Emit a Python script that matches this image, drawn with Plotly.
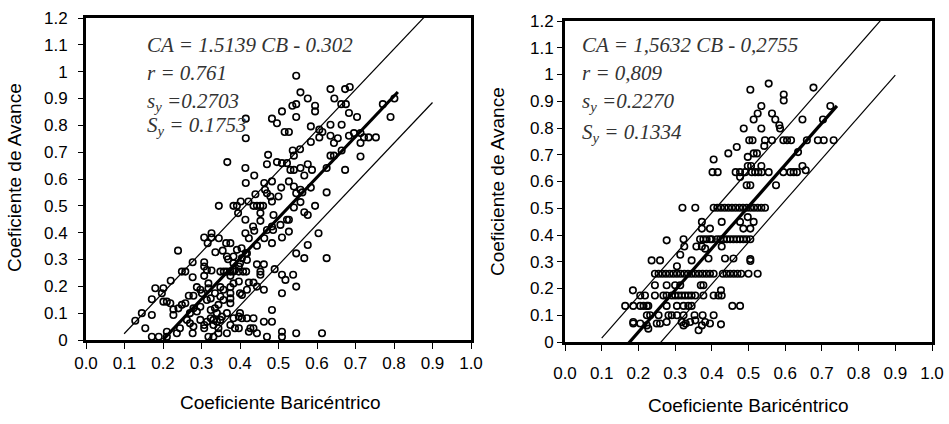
import plotly.graph_objects as go

W, H = 949, 424

# ---------------- Left chart data (Coeficiente Baricéntrico vs Coeficiente de Avance)
left_cb = [
    0.546, 0.557, 0.576, 0.536, 0.546, 0.635, 0.645, 0.673, 0.685, 0.663,
    0.675, 0.595, 0.595, 0.509, 0.546, 0.483, 0.496, 0.415, 0.415, 0.683,
    0.704, 0.791, 0.801, 0.771, 0.584, 0.635, 0.664, 0.606, 0.614, 0.516,
    0.527, 0.635, 0.644, 0.654, 0.683, 0.696, 0.713, 0.713, 0.722, 0.734,
    0.753, 0.584, 0.606, 0.537, 0.556, 0.540, 0.473, 0.635, 0.644, 0.664,
    0.713, 0.367, 0.414, 0.437, 0.415, 0.470, 0.496, 0.509, 0.522, 0.531,
    0.540, 0.557, 0.567, 0.576, 0.587, 0.625, 0.673, 0.527, 0.483, 0.463,
    0.465, 0.470, 0.500, 0.507, 0.540, 0.557, 0.562, 0.584, 0.625, 0.546,
    0.557, 0.483, 0.479, 0.440, 0.345, 0.383, 0.392, 0.402, 0.422, 0.435,
    0.444, 0.453, 0.395, 0.460, 0.453, 0.414, 0.434, 0.437, 0.414, 0.423,
    0.453, 0.487, 0.483, 0.486, 0.505, 0.522, 0.527, 0.527, 0.509, 0.540,
    0.567, 0.576, 0.595, 0.604, 0.470, 0.463, 0.483, 0.444, 0.345, 0.307,
    0.326, 0.326, 0.316, 0.364, 0.375, 0.239, 0.336, 0.355, 0.366, 0.369,
    0.383, 0.392, 0.404, 0.415, 0.418, 0.383, 0.400, 0.444, 0.462, 0.546,
    0.567, 0.576, 0.625, 0.277, 0.307, 0.307, 0.314, 0.326, 0.349, 0.358,
    0.366, 0.375, 0.383, 0.397, 0.408, 0.416, 0.453, 0.453, 0.249, 0.258,
    0.220, 0.277, 0.307, 0.318, 0.375, 0.423, 0.435, 0.444, 0.462, 0.490,
    0.509, 0.518, 0.538, 0.546, 0.180, 0.201, 0.197, 0.201, 0.210, 0.219,
    0.227, 0.171, 0.145, 0.128, 0.171, 0.154, 0.171, 0.189, 0.210, 0.210,
    0.227, 0.240, 0.249, 0.258, 0.244, 0.236, 0.267, 0.279, 0.288, 0.270,
    0.279, 0.288, 0.297, 0.262, 0.270, 0.279, 0.277, 0.297, 0.307, 0.307,
    0.318, 0.331, 0.324, 0.335, 0.344, 0.314, 0.324, 0.335, 0.297, 0.301,
    0.318, 0.349, 0.357, 0.375, 0.375, 0.349, 0.357, 0.375, 0.375, 0.340,
    0.353, 0.366, 0.331, 0.340, 0.349, 0.331, 0.344, 0.344, 0.366, 0.375,
    0.383, 0.397, 0.387, 0.397, 0.400, 0.405, 0.418, 0.427, 0.435, 0.435,
    0.423, 0.444, 0.462, 0.483, 0.483, 0.470, 0.509, 0.509, 0.546, 0.613,
    0.509, 0.383, 0.397, 0.400, 0.405, 0.418, 0.387, 0.397, 0.405, 0.418,
    0.314, 0.324,
]
left_ca = [
    0.985, 0.923, 0.900, 0.873, 0.879, 0.935, 0.900, 0.935, 0.943, 0.879,
    0.879, 0.873, 0.852, 0.852, 0.831, 0.825, 0.808, 0.825, 0.752, 0.846,
    0.831, 0.831, 0.900, 0.879, 0.796, 0.802, 0.802, 0.784, 0.775, 0.775,
    0.775, 0.761, 0.734, 0.752, 0.761, 0.771, 0.771, 0.734, 0.755, 0.755,
    0.755, 0.738, 0.755, 0.706, 0.711, 0.687, 0.690, 0.687, 0.687, 0.706,
    0.684, 0.663, 0.641, 0.613, 0.585, 0.655, 0.663, 0.659, 0.659, 0.634,
    0.634, 0.641, 0.613, 0.655, 0.634, 0.641, 0.634, 0.591, 0.591, 0.585,
    0.560, 0.547, 0.535, 0.568, 0.572, 0.560, 0.550, 0.568, 0.550, 0.547,
    0.514, 0.516, 0.535, 0.543, 0.500, 0.500, 0.500, 0.516, 0.516, 0.500,
    0.500, 0.500, 0.473, 0.500, 0.473, 0.448, 0.423, 0.407, 0.398, 0.379,
    0.444, 0.466, 0.423, 0.410, 0.429, 0.448, 0.448, 0.404, 0.382, 0.494,
    0.476, 0.466, 0.500, 0.398, 0.410, 0.379, 0.361, 0.351, 0.379, 0.382,
    0.398, 0.382, 0.361, 0.361, 0.361, 0.333, 0.327, 0.333, 0.311, 0.301,
    0.311, 0.336, 0.342, 0.323, 0.298, 0.286, 0.286, 0.282, 0.282, 0.323,
    0.305, 0.354, 0.305, 0.290, 0.290, 0.274, 0.261, 0.259, 0.255, 0.255,
    0.255, 0.255, 0.255, 0.255, 0.255, 0.255, 0.255, 0.243, 0.255, 0.255,
    0.221, 0.234, 0.239, 0.211, 0.239, 0.214, 0.214, 0.199, 0.187, 0.264,
    0.243, 0.224, 0.243, 0.199, 0.193, 0.193, 0.174, 0.143, 0.143, 0.137,
    0.114, 0.152, 0.100, 0.072, 0.093, 0.044, 0.012, 0.012, 0.031, 0.012,
    0.093, 0.118, 0.131, 0.137, 0.044, 0.025, 0.165, 0.165, 0.197, 0.100,
    0.118, 0.106, 0.124, 0.075, 0.062, 0.050, 0.025, 0.075, 0.044, 0.056,
    0.012, 0.012, 0.112, 0.118, 0.131, 0.149, 0.155, 0.174, 0.187, 0.174,
    0.193, 0.197, 0.187, 0.197, 0.174, 0.162, 0.149, 0.155, 0.137, 0.100,
    0.087, 0.100, 0.075, 0.068, 0.075, 0.056, 0.044, 0.025, 0.025, 0.056,
    0.081, 0.087, 0.044, 0.044, 0.100, 0.081, 0.081, 0.044, 0.044, 0.081,
    0.031, 0.025, 0.068, 0.068, 0.112, 0.012, 0.031, 0.012, 0.025, 0.025,
    0.174, 0.211, 0.218, 0.174, 0.168, 0.187, 0.261, 0.274, 0.305, 0.323,
    0.068, 0.081,
]
left_slope, left_intercept, left_se = 1.5139, -0.302, 0.1753
left_fit_x = [0.20, 0.81]
left_up_x = [0.099, 0.885]
left_lo_x = [0.30, 0.90]
left_text = ["CA = 1.5139 CB - 0.302", "r = 0.761",
             "s<sub>y</sub> =0.2703", "S<sub>y</sub> = 0.1753"]

# ---------------- Right chart data
right_cb = [
    0.555, 0.505, 0.677, 0.596, 0.596, 0.535, 0.525, 0.514, 0.564, 0.573,
    0.584, 0.586, 0.487, 0.535, 0.723, 0.703, 0.647,
    0.543, 0.468, 0.445, 0.514, 0.523, 0.498, 0.405, 0.635, 0.535, 0.498,
    0.507, 0.647, 0.656,
    0.477, 0.495, 0.505, 0.575,
    0.498, 0.477, 0.514, 0.427, 0.373, 0.373, 0.395, 0.486, 0.505,
    0.325, 0.358, 0.373, 0.427, 0.382, 0.314, 0.236, 0.259, 0.345, 0.305,
    0.391, 0.436, 0.459, 0.505, 0.505, 0.277,
    0.245, 0.277, 0.300, 0.314, 0.370, 0.377, 0.425, 0.185,
    0.186, 0.186, 0.205, 0.223, 0.227, 0.250, 0.259, 0.277, 0.318, 0.323,
    0.329, 0.341, 0.355, 0.364, 0.373, 0.382, 0.395, 0.425,
]
right_ca = [
    0.966, 0.943, 0.951, 0.925, 0.903, 0.882, 0.854, 0.832, 0.854, 0.832,
    0.810, 0.798, 0.798, 0.798, 0.882, 0.832, 0.832,
    0.733, 0.729, 0.705, 0.705, 0.705, 0.692, 0.682, 0.710, 0.658, 0.658,
    0.658, 0.658, 0.642,
    0.617, 0.586, 0.586, 0.586,
    0.467, 0.449, 0.449, 0.449, 0.449, 0.424, 0.424, 0.424, 0.424,
    0.357, 0.357, 0.357, 0.357, 0.349, 0.326, 0.305, 0.305, 0.305, 0.283,
    0.312, 0.312, 0.312, 0.310, 0.303, 0.380,
    0.212, 0.212, 0.212, 0.212, 0.212, 0.212, 0.193, 0.193,
    0.075, 0.069, 0.069, 0.062, 0.050, 0.069, 0.069, 0.075, 0.075, 0.062,
    0.069, 0.075, 0.081, 0.044, 0.062, 0.075, 0.069, 0.066,
]
# rows of points sharing the same Coeficiente de Avance value
right_row_ca = [0.754, 0.635, 0.502, 0.384, 0.255, 0.174, 0.135, 0.100]
right_row_cb = [
    [0.502, 0.511, 0.545, 0.564, 0.595, 0.605, 0.616, 0.659, 0.689, 0.705, 0.732],
    [0.402, 0.416, 0.465, 0.477, 0.491, 0.509, 0.518, 0.527, 0.536, 0.555,
     0.595, 0.614, 0.623, 0.632],
    [0.320, 0.355, 0.405, 0.415, 0.425, 0.435, 0.445, 0.455, 0.465, 0.475,
     0.485, 0.495, 0.505, 0.515, 0.525, 0.535, 0.545],
    [0.323, 0.368, 0.377, 0.386, 0.395, 0.400, 0.414, 0.423, 0.432, 0.441,
     0.450, 0.459, 0.468, 0.477, 0.486, 0.495, 0.505],
    [0.245, 0.255, 0.265, 0.275, 0.285, 0.295, 0.305, 0.315, 0.325, 0.335,
     0.345, 0.355, 0.365, 0.375, 0.385, 0.395, 0.405, 0.430, 0.440, 0.450,
     0.460, 0.470, 0.480, 0.500, 0.525],
    [0.205, 0.218, 0.245, 0.268, 0.277, 0.291, 0.300, 0.309, 0.318, 0.327,
     0.336, 0.345, 0.355, 0.377, 0.405, 0.418, 0.427],
    [0.164, 0.186, 0.205, 0.214, 0.223, 0.227, 0.277, 0.305, 0.323, 0.336,
     0.345, 0.456, 0.477],
    [0.223, 0.232, 0.255, 0.282, 0.291, 0.305, 0.323, 0.353, 0.375, 0.405],
]
right_slope, right_intercept, right_se = 1.5632, -0.2755, 0.1334
right_fit_x = [0.17, 0.741]
right_up_x = [0.10, 0.87]
right_lo_x = [0.25, 0.90]
right_text = ["CA = 1,5632 CB - 0,2755", "r = 0,809",
              "s<sub>y</sub> =0.2270", "S<sub>y</sub> = 0.1334"]

x_ticks = [i / 10 for i in range(11)]
x_ticktext = ["0.0", "0.1", "0.2", "0.3", "0.4", "0.5", "0.6", "0.7", "0.8", "0.9", "1.0"]
y_ticks = [i / 10 for i in range(13)]
y_ticktext = ["0", "0.1", "0.2", "0.3", "0.4", "0.5", "0.6", "0.7", "0.8", "0.9", "1", "1.1", "1.2"]

x_title = "Coeficiente Baricéntrico"
y_title = "Coeficiente de Avance"

# assemble right chart points
r_cb = list(right_cb)
r_ca = list(right_ca)
for lvl, xs in zip(right_row_ca, right_row_cb):
    r_cb += xs
    r_ca += [lvl] * len(xs)

fig = go.Figure()

marker = dict(symbol="circle-open", size=6.5, color="black", line=dict(width=1.6, color="black"))


def add_chart(cb, ca, slope, icpt, se, fit_x, up_x, lo_x, xa, ya, xlab):
    fig.add_trace(go.Scatter(x=cb, y=ca, mode="markers", marker=marker,
                             xaxis=xa, yaxis=ya, showlegend=False))
    fig.add_trace(go.Scatter(x=fit_x, y=[slope * v + icpt for v in fit_x], mode="lines",
                             line=dict(color="black", width=3.2), xaxis=xa, yaxis=ya,
                             showlegend=False))
    fig.add_trace(go.Scatter(x=up_x, y=[slope * v + icpt + se for v in up_x], mode="lines",
                             line=dict(color="black", width=1.2), xaxis=xa, yaxis=ya,
                             showlegend=False))
    fig.add_trace(go.Scatter(x=lo_x, y=[slope * v + icpt - se for v in lo_x], mode="lines",
                             line=dict(color="black", width=1.2), xaxis=xa, yaxis=ya,
                             showlegend=False))
    # invisible carrier so the tick-label axis is drawn
    fig.add_trace(go.Scatter(x=[fit_x[0]], y=[-1], mode="markers", marker=dict(opacity=0),
                             xaxis=xlab, yaxis=ya, showlegend=False, hoverinfo="skip"))


add_chart(left_cb, left_ca, left_slope, left_intercept, left_se,
          left_fit_x, left_up_x, left_lo_x, "x", "y", "x3")
add_chart(r_cb, r_ca, right_slope, right_intercept, right_se,
          right_fit_x, right_up_x, right_lo_x, "x2", "y2", "x4")

tickfont = dict(family="Liberation Sans, Arial, sans-serif", size=17, color="black")


def xaxis_cfg(x0, x1):
    # frame + tick marks, labels drawn by a separate label axis
    return dict(domain=[x0 / W, x1 / W], range=[0, 1], tickvals=x_ticks,
                showticklabels=False,
                ticks="outside", ticklen=6, tickwidth=1, tickcolor="black",
                showline=True, linewidth=3, linecolor="black", mirror=True,
                showgrid=False, zeroline=False, automargin=False, fixedrange=True)


def xlabel_cfg(x0, x1, over, py):
    return dict(domain=[x0 / W, x1 / W], range=[0, 1], tickvals=x_ticks, ticktext=x_ticktext,
                overlaying=over, anchor="free", position=1 - py / H, side="bottom",
                ticks="", showline=False, showgrid=False, zeroline=False,
                ticklabeloverflow="allow",
                tickfont=tickfont, automargin=False, fixedrange=True)


def yaxis_cfg(y_top, y_bot, anchor, standoff):
    return dict(domain=[1 - y_bot / H, 1 - y_top / H], range=[0, 1.2], tickvals=y_ticks,
                ticktext=y_ticktext, ticks="outside", ticklen=5, tickwidth=1,
                tickcolor="black", showline=True, linewidth=3, linecolor="black",
                mirror=True, showgrid=False, zeroline=False, tickfont=tickfont,
                automargin=False, ticklabelstandoff=standoff, anchor=anchor, fixedrange=True)


fig.update_layout(
    width=W, height=H,
    margin=dict(l=0, r=0, t=0, b=0, pad=0, autoexpand=False),
    paper_bgcolor="white", plot_bgcolor="white",
    xaxis=xaxis_cfg(86, 471),
    yaxis=yaxis_cfg(18, 340, "x", 7),
    xaxis2=dict(xaxis_cfg(565, 932), anchor="y2"),
    yaxis2=yaxis_cfg(21, 342, "x2", 0),
    xaxis3=xlabel_cfg(86, 471, "x", 351),
    xaxis4=xlabel_cfg(565, 932, "x2", 361),
)

annots = []
text_font = dict(family="Liberation Serif, Times New Roman, Times, serif", size=21,
                 color="#333333")
left_y = [45, 73, 102, 126]
right_y = [45, 73, 102, 133]
for txt, py in zip(left_text, left_y):
    annots.append(dict(x=145 / W, y=1 - py / H, xref="paper", yref="paper", text="<i>" + txt + "</i>",
                       showarrow=False, xanchor="left", yanchor="middle", font=text_font))
for txt, py in zip(right_text, right_y):
    annots.append(dict(x=580 / W, y=1 - py / H, xref="paper", yref="paper", text="<i>" + txt + "</i>",
                       showarrow=False, xanchor="left", yanchor="middle", font=text_font))

title_font = dict(family="Liberation Sans, Arial, sans-serif", size=19, color="black")
annots.append(dict(x=15 / W, y=1 - 178 / H, xref="paper", yref="paper", text=y_title, textangle=-90,
                   showarrow=False, xanchor="center", yanchor="middle", font=title_font))
annots.append(dict(x=497 / W, y=1 - 182 / H, xref="paper", yref="paper", text=y_title, textangle=-90,
                   showarrow=False, xanchor="center", yanchor="middle", font=title_font))
annots.append(dict(x=280 / W, y=1 - 402 / H, xref="paper", yref="paper", text=x_title,
                   showarrow=False, xanchor="center", yanchor="middle", font=title_font))
annots.append(dict(x=748 / W, y=1 - 405 / H, xref="paper", yref="paper", text=x_title,
                   showarrow=False, xanchor="center", yanchor="middle", font=title_font))
fig.update_layout(annotations=annots)

fig.write_html("out.html", config={"displayModeBar": False})
